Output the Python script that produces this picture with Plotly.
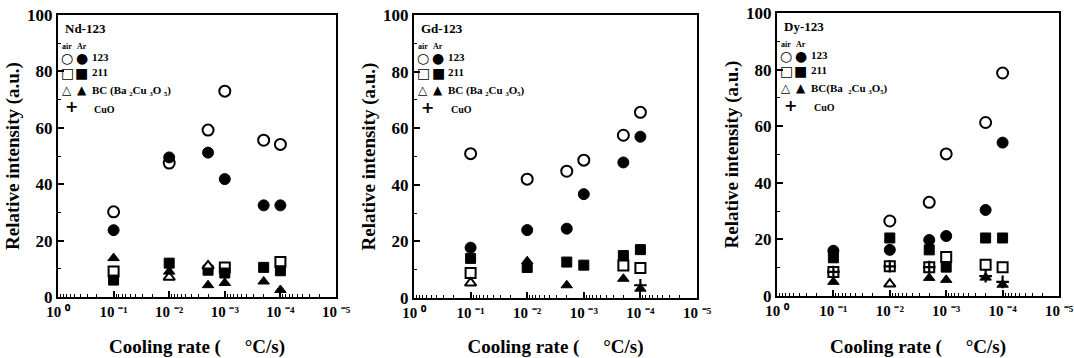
import plotly.graph_objects as go

# ---------------- data ----------------
cooling_rate = [1e-1, 1e-2, 2e-3, 1e-3, 2e-4, 1e-4]

panels = ["Nd-123", "Gd-123", "Dy-123"]

nd_air_123 = [30.2, 47.5, 59.2, 73.0, 55.6, 54.1]
nd_ar_123 = [23.7, 49.5, 51.2, 41.8, 32.5, 32.5]
nd_air_211 = [9.0, None, None, 10.5, None, 12.4]
nd_ar_211 = [6.0, 12.0, 9.5, 8.5, 10.5, 9.3]
nd_air_bc = [None, 7.0, 11.0, None, None, None]
nd_ar_bc = [13.8, 9.0, 4.2, 5.0, 5.5, 2.5]
nd_cuo = [None, None, None, None, None, None]

gd_air_123 = [51.0, 42.0, 44.8, 48.7, 57.5, 65.6]
gd_ar_123 = [17.8, 24.0, 24.5, 36.7, 47.9, 57.0]
gd_air_211 = [8.8, None, None, None, 11.5, 10.6]
gd_ar_211 = [14.0, 10.8, 12.7, 11.6, 15.0, 17.1]
gd_air_bc = [5.3, None, None, None, None, None]
gd_ar_bc = [None, 13.0, 4.5, None, 6.8, 3.3]
gd_cuo = [None, None, None, None, None, 4.5]

dy_air_123 = [None, 26.5, 33.1, 50.2, 61.3, 78.8]
dy_ar_123 = [16.0, 16.3, 19.8, 21.2, 30.4, 54.2]
dy_air_211 = [8.5, 10.5, 10.2, 13.8, 11.0, 10.2]
dy_ar_211 = [13.5, 20.5, 16.3, 10.2, 20.5, 20.5]
dy_air_bc = [None, 4.2, None, None, None, None]
dy_ar_bc = [5.0, None, 6.4, 5.7, 6.5, 4.0]
dy_cuo = [8.5, 10.5, 10.2, None, 7.0, 5.0]

x_tick_vals = [1e0, 1e-1, 1e-2, 1e-3, 1e-4, 1e-5]
x_tick_text = ["10 ⁰", "10 ⁻¹", "10 ⁻²", "10 ⁻³", "10 ⁻⁴", "10 ⁻⁵"]
x_minor_vals = [k * 10.0 ** (-d) for d in range(1, 6) for k in range(2, 10)]

bc_labels = ["BC (Ba ₂Cu ₃O ₅)", "BC (Ba ₂Cu ₃O₅)", "BC(Ba  ₂Cu ₃O₅)"]

datasets = [
    (nd_air_123, nd_ar_123, nd_air_211, nd_ar_211, nd_air_bc, nd_ar_bc, nd_cuo),
    (gd_air_123, gd_ar_123, gd_air_211, gd_ar_211, gd_air_bc, gd_ar_bc, gd_cuo),
    (dy_air_123, dy_ar_123, dy_air_211, dy_ar_211, dy_air_bc, dy_ar_bc, dy_cuo),
]

# ---------------- layout geometry (pixels) ----------------
W, H = 1074, 358
boxes = [(58, 336, 15, 297), (414, 697, 15, 298), (777, 1059, 13, 296)]

SERIF = "Liberation Serif, Times New Roman, serif"
fig = go.Figure()

styles = [
    dict(symbol="circle", color="white", line=dict(color="black", width=2), size=11),
    dict(symbol="circle", color="black", line=dict(color="black", width=1), size=11),
    dict(symbol="square", color="white", line=dict(color="black", width=2), size=10),
    dict(symbol="square", color="black", line=dict(color="black", width=1), size=10),
    dict(symbol="triangle-up", color="white", line=dict(color="black", width=2), size=10),
    dict(symbol="triangle-up", color="black", line=dict(color="black", width=1), size=10),
    dict(symbol="cross-thin", color="black", line=dict(color="black", width=2.2), size=9),
]
names = ["air 123", "Ar 123", "air 211", "Ar 211", "air BC", "Ar BC", "CuO"]

for i, ds in enumerate(datasets):
    xa = "x" if i == 0 else f"x{i+1}"
    ya = "y" if i == 0 else f"y{i+1}"
    for series, st, nm in zip(ds, styles, names):
        fig.add_trace(go.Scatter(
            x=cooling_rate, y=series, mode="markers", name=nm,
            marker=st, xaxis=xa, yaxis=ya, showlegend=False, cliponaxis=False))

    x0, x1, yt, yb = boxes[i]
    sfx = "" if i == 0 else str(i + 1)
    axis_line = dict(showline=True, linecolor="black", linewidth=2, mirror=True,
                     showgrid=False, zeroline=False, automargin=False)
    fig.layout["xaxis" + sfx] = dict(
        domain=[x0 / W, x1 / W], anchor=ya, type="log", range=[0, -5],
        tickmode="array", tickvals=x_tick_vals, ticktext=x_tick_text,
        ticks="inside", ticklen=6, tickwidth=1.5, tickcolor="black",
        minor=dict(tickmode="array", tickvals=x_minor_vals, ticks="inside",
                   ticklen=3, tickwidth=1, tickcolor="black"),
        tickfont=dict(family=SERIF, size=15, color="black", weight="bold"),
        title=dict(text="Cooling rate (     °C/s)", standoff=22,
                   font=dict(family=SERIF, size=19, color="black", weight="bold")),
        **axis_line)
    fig.layout["yaxis" + sfx] = dict(
        domain=[1 - yb / H, 1 - yt / H], anchor=xa, range=[0, 100],
        tickmode="linear", tick0=0, dtick=20,
        ticks="inside", ticklen=6, tickwidth=1.5, tickcolor="black",
        minor=dict(dtick=10, ticks="inside", ticklen=3, tickwidth=1, tickcolor="black"),
        tickfont=dict(family=SERIF, size=17, color="black", weight="bold"),
        title=dict(text="Relative intensity (a.u.)", standoff=2,
                   font=dict(family=SERIF, size=19, color="black", weight="bold")),
        **axis_line)

    xd = f"{xa} domain"
    yd = f"{ya} domain"

    def ann(text, x, y, size, family=SERIF, xanchor="left"):
        fig.add_annotation(text=text, x=x, y=y, xref=xd, yref=yd, showarrow=False,
                           xanchor=xanchor, yanchor="middle",
                           font=dict(family=family, size=size, color="black", weight="bold"))

    GL = "DejaVu Sans"
    ann(panels[i], 0.018, 0.952, 13)
    ann("air", 0.033, 0.890, 8, xanchor="center")
    ann("Ar", 0.085, 0.890, 8, xanchor="center")
    ann("○", 0.033, 0.848, 14, family=GL, xanchor="center")
    ann("●", 0.085, 0.848, 14, family=GL, xanchor="center")
    ann("123", 0.114, 0.850, 11)
    ann("□", 0.033, 0.796, 14, family=GL, xanchor="center")
    ann("■", 0.085, 0.796, 14, family=GL, xanchor="center")
    ann("211", 0.114, 0.798, 11)
    ann("△", 0.033, 0.734, 12, family=GL, xanchor="center")
    ann("▲", 0.085, 0.734, 12, family=GL, xanchor="center")
    ann(bc_labels[i], 0.114, 0.734, 11)
    ann("+", 0.048, 0.674, 16, family=GL, xanchor="center")
    ann("CuO", 0.124, 0.666, 10)

fig.update_layout(width=W, height=H, margin=dict(l=0, r=0, t=0, b=0),
                  paper_bgcolor="white", plot_bgcolor="white")
fig.write_html("out.html", config={"displayModeBar": False},
               post_script="document.body.style.margin='0';")
